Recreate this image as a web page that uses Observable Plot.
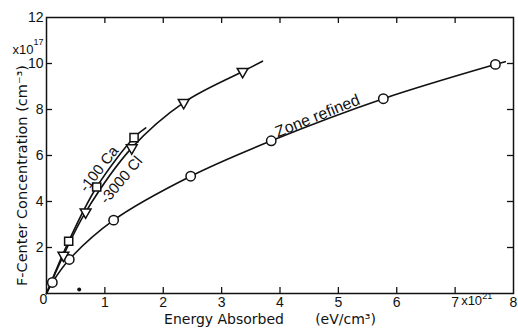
<!DOCTYPE html>
<html>
<head>
<meta charset="utf-8">
<script src="https://cdn.jsdelivr.net/npm/d3@7"></script>
<script src="https://cdn.jsdelivr.net/npm/@observablehq/plot@0.6"></script>
<style>
  html, body { margin: 0; padding: 0; background: #fff; }
  #chart { width: 518px; height: 331px; }
</style>
</head>
<body>
<div id="chart"></div>
<script>
// Zone refined (open circles)
const zoneEnergy = [0.10, 0.39, 1.15, 2.47, 3.85, 5.77, 7.69];
const zoneConc   = [0.48, 1.48, 3.19, 5.10, 6.64, 8.47, 9.96];
// ~3000 Cl (open down-triangles)
const clEnergy = [0.29, 0.67, 1.46, 2.35, 3.36];
const clConc   = [1.66, 3.54, 6.33, 8.30, 9.65];
// ~100 Ca (open squares)
const caEnergy = [0.38, 0.86, 1.50];
const caConc   = [2.27, 4.63, 6.78];
// where the drawn curves start and stop
const curveStart = [0, 0];
const zoneEnd = [7.86, 10.08];
const clEnd   = [3.70, 10.10];
const caEnd   = [1.70, 7.20];
// stray dot in the scan
const strayDot = [0.56, 0.17];

const xTickLabels = [1, 2, 3, 4, 5, 6, 7, 8];
const yTickLabels = [2, 4, 6, 8, 10, 12];
const xInnerTicks = [1, 2, 3, 4, 5, 6, 7];
const yInnerTicks = [2, 4, 6, 8, 10];

const pts = (xs, ys) => xs.map((x, i) => ({e: x, f: ys[i]}));
const curve = (xs, ys, end) => [{e: curveStart[0], f: curveStart[1]}, ...pts(xs, ys), {e: end[0], f: end[1]}];

const zonePts = pts(zoneEnergy, zoneConc);
const clPts = pts(clEnergy, clConc);
const caPts = pts(caEnergy, caConc);

const W = 518, H = 331, mL = 46, mR = 5, mT = 17, mB = 38;
const pw = W - mL - mR, ph = H - mT - mB;
const ink = "#111";
const titleFont = "DejaVu Sans";

const chart = Plot.plot({
  width: W, height: H,
  marginLeft: mL, marginRight: mR, marginTop: mT, marginBottom: mB,
  x: {domain: [0, 8]},
  y: {domain: [0, 12]},
  style: {fontFamily: "Liberation Sans, Arial, sans-serif", fontSize: "14px", color: ink, background: "#fff"},
  marks: [
    Plot.frame({stroke: ink, strokeWidth: 1.5}),
    Plot.tickX(xInnerTicks, {x: d => d, insetTop: ph - 6, stroke: ink, strokeWidth: 1.3}),
    Plot.tickX(xInnerTicks, {x: d => d, insetBottom: ph - 6, stroke: ink, strokeWidth: 1.3}),
    Plot.tickY(yInnerTicks, {y: d => d, insetRight: pw - 6, stroke: ink, strokeWidth: 1.3}),
    Plot.tickY(yInnerTicks, {y: d => d, insetLeft: pw - 6, stroke: ink, strokeWidth: 1.3}),
    Plot.axisX(xTickLabels, {anchor: "bottom", tickSize: 0, tickPadding: 4, label: null, fontSize: 14}),
    Plot.axisY(yTickLabels, {anchor: "left", tickSize: 0, tickPadding: 3, label: null, fontSize: 14}),
    Plot.text(["0"], {frameAnchor: "bottom-left", dx: -7, dy: 10, fontSize: 14}),
    // multiplier x10^17 (top-left)
    Plot.text(["x10"], {frameAnchor: "top-left", dx: -13, dy: 27, textAnchor: "end", fontSize: 13}),
    Plot.text(["17"], {frameAnchor: "top-left", dx: -13, dy: 21, textAnchor: "start", fontSize: 9}),
    // multiplier x10^21 (bottom, after 7)
    Plot.text(["x10"], {x: [7], frameAnchor: "bottom", dx: 6, dy: 11, textAnchor: "start", fontSize: 13}),
    Plot.text(["21"], {x: [7], frameAnchor: "bottom", dx: 27, dy: 5, textAnchor: "start", fontSize: 9}),
    Plot.text(["Energy Absorbed\u00a0\u00a0\u00a0\u00a0\u00a0\u00a0\u00a0(eV/cm³)"], {frameAnchor: "bottom", textAnchor: "middle", dx: -10, dy: 30, fontSize: 14, fontFamily: titleFont}),
    Plot.text(["F-Center Concentration (cm⁻³)"], {frameAnchor: "left", textAnchor: "middle", rotate: -90, dx: -24, dy: 20, fontSize: 14.5, fontFamily: titleFont}),
    Plot.line(curve(zoneEnergy, zoneConc, zoneEnd), {x: "e", y: "f", curve: "catmull-rom", stroke: ink, strokeWidth: 1.6}),
    Plot.line(curve(clEnergy, clConc, clEnd), {x: "e", y: "f", curve: "catmull-rom", stroke: ink, strokeWidth: 1.6}),
    Plot.line(curve(caEnergy, caConc, caEnd), {x: "e", y: "f", curve: "catmull-rom", stroke: ink, strokeWidth: 1.6}),
    Plot.dot(zonePts, {x: "e", y: "f", r: 4.7, symbol: "circle", fill: "#fff", stroke: ink, strokeWidth: 1.5}),
    Plot.dot(clPts, {x: "e", y: "f", r: 4, symbol: "triangle", rotate: 180, fill: "#fff", stroke: ink, strokeWidth: 1.5}),
    Plot.dot(caPts, {x: "e", y: "f", r: 4.6, symbol: "square", fill: "#fff", stroke: ink, strokeWidth: 1.5}),
    Plot.dot([strayDot], {x: d => d[0], y: d => d[1], r: 2, fill: ink}),
    Plot.text(["-100 Ca"], {x: [0.90], y: [5.41], rotate: -52, fontSize: 15}),
    Plot.text(["-3000 Cl"], {x: [1.28], y: [4.93], rotate: -50, fontSize: 15}),
    Plot.text(["Zone refined"], {x: [4.64], y: [7.72], rotate: -22, fontSize: 16})
  ]
});
document.getElementById("chart").appendChild(chart);
</script>
</body>
</html>
